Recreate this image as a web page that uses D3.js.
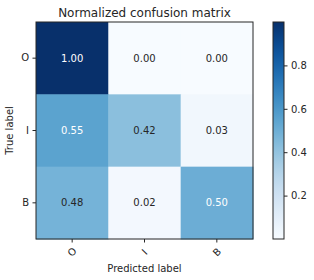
<!DOCTYPE html>
<html>
<head>
<meta charset="utf-8">
<script src="https://cdn.jsdelivr.net/npm/d3@7"></script>
<style>
  body { margin: 0; background: #fff; }
  svg { display: block; font-family: "DejaVu Sans", sans-serif; }
</style>
</head>
<body>
<svg id="chart" width="314" height="280"></svg>
<script>
const classes = ["O", "I", "B"];
// rows = true label, cols = predicted label
const matrix = [
  [1.00, 0.00, 0.00],
  [0.55, 0.42, 0.03],
  [0.477, 0.02, 0.503],
];
const colorbarTicks = [0.2, 0.4, 0.6, 0.8];

const padLeft = 36, padTop = 22, size = 217;
const ink = "#262626";

const svg = d3.select("#chart");

const x = d3.scaleBand().domain(classes).range([padLeft, padLeft + size]);
const y = d3.scaleBand().domain(classes).range([padTop, padTop + size]);
const maxVal = d3.max(matrix.flat());
const minVal = d3.min(matrix.flat());
const color = d3.scaleSequential(d3.interpolateBlues).domain([minVal, maxVal]);

const cells = [];
matrix.forEach((row, i) => row.forEach((v, j) => cells.push({ t: classes[i], p: classes[j], v })));

svg.append("g").selectAll("rect")
  .data(cells)
  .join("rect")
  .attr("x", d => x(d.p))
  .attr("y", d => y(d.t))
  .attr("width", x.bandwidth() + 0.5)
  .attr("height", y.bandwidth() + 0.5)
  .attr("fill", d => color(d.v));

const thresh = maxVal / 2;
svg.append("g").selectAll("text")
  .data(cells)
  .join("text")
  .attr("x", d => x(d.p) + x.bandwidth() / 2)
  .attr("y", d => y(d.t) + y.bandwidth() / 2)
  .attr("text-anchor", "middle")
  .attr("dominant-baseline", "central")
  .attr("font-size", 10)
  .attr("fill", d => d.v > thresh ? "#fff" : ink)
  .text(d => d.v.toFixed(2));

// frame
svg.append("rect")
  .attr("x", padLeft).attr("y", padTop)
  .attr("width", size).attr("height", size)
  .attr("fill", "none").attr("stroke", ink).attr("stroke-width", 1);

// y axis
const yAxis = svg.append("g")
  .attr("transform", `translate(${padLeft},0)`)
  .call(d3.axisLeft(y).tickSize(3.5).tickPadding(3.5));
yAxis.select(".domain").remove();
yAxis.selectAll("line").attr("stroke", ink);
yAxis.selectAll("text").attr("font-size", 10).attr("fill", ink).attr("font-family", "DejaVu Sans");

// x axis
const xAxis = svg.append("g")
  .attr("transform", `translate(0,${padTop + size})`)
  .call(d3.axisBottom(x).tickSize(3.5).tickPadding(3.5));
xAxis.select(".domain").remove();
xAxis.selectAll("line").attr("stroke", ink);
xAxis.selectAll("text")
  .attr("font-size", 10).attr("fill", ink).attr("font-family", "DejaVu Sans")
  .attr("dy", null).attr("y", 13)
  .attr("dominant-baseline", "central")
  .attr("transform", "rotate(-45 0 13)");

// titles
svg.append("text")
  .attr("x", padLeft + size / 2).attr("y", 17)
  .attr("text-anchor", "middle").attr("font-size", 12).attr("fill", ink)
  .text("Normalized confusion matrix");

svg.append("text")
  .attr("x", padLeft + size / 2).attr("y", 272)
  .attr("text-anchor", "middle").attr("font-size", 10).attr("fill", ink)
  .text("Predicted label");

svg.append("text")
  .attr("transform", `translate(13,${padTop + size / 2}) rotate(-90)`)
  .attr("text-anchor", "middle").attr("font-size", 10).attr("fill", ink)
  .text("True label");

// colorbar
const cbX = 273, cbW = 11;
const cbScale = d3.scaleLinear().domain([minVal, maxVal]).range([padTop + size, padTop]);
const defs = svg.append("defs");
const grad = defs.append("linearGradient")
  .attr("id", "cbgrad").attr("x1", 0).attr("y1", 1).attr("x2", 0).attr("y2", 0);
d3.range(0, 1.0001, 0.05).forEach(t => {
  grad.append("stop").attr("offset", t).attr("stop-color", d3.interpolateBlues(t));
});
svg.append("rect")
  .attr("x", cbX).attr("y", padTop).attr("width", cbW).attr("height", size)
  .attr("fill", "url(#cbgrad)").attr("stroke", ink).attr("stroke-width", 1);

const cbAxis = svg.append("g")
  .attr("transform", `translate(${cbX + cbW},0)`)
  .call(d3.axisRight(cbScale).tickValues(colorbarTicks).tickSize(3.5).tickPadding(3.5).tickFormat(d3.format(".1f")));
cbAxis.select(".domain").remove();
cbAxis.selectAll("line").attr("stroke", ink);
cbAxis.selectAll("text").attr("font-size", 10).attr("fill", ink).attr("font-family", "DejaVu Sans");
</script>
</body>
</html>
